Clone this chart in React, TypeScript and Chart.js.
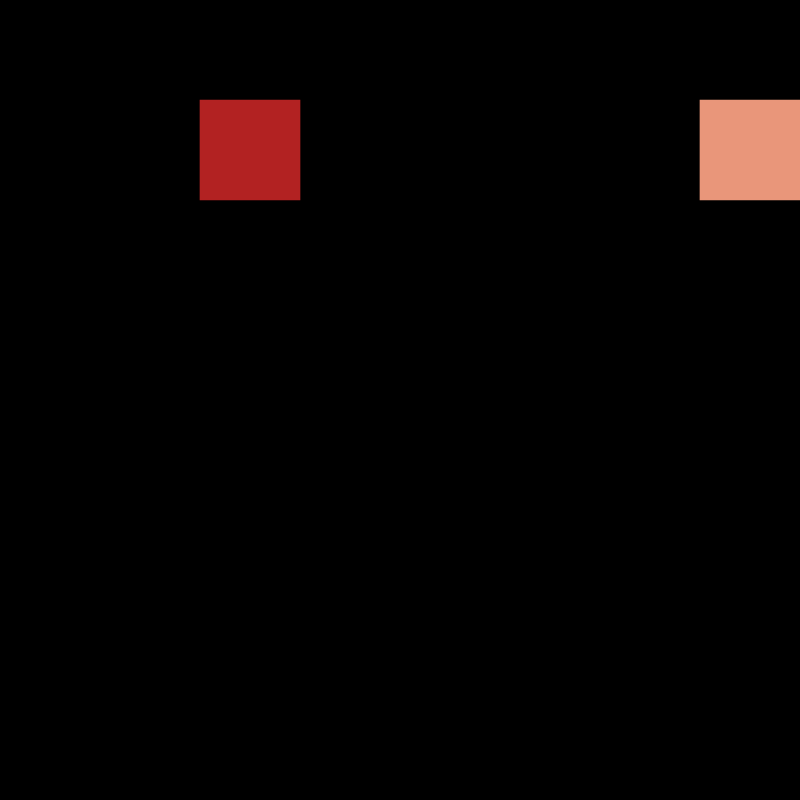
import { useEffect, useRef } from "react";
import { Chart, registerables } from "chart.js";

Chart.register(...registerables);

// grid columns (x categories) and row range (y)
const columns = ["A", "B", "C", "D", "E", "F", "G", "H"];
const rowMin = 0;
const rowMax = 8;

// filled cells
const cellColumns = ["C", "H"];
const cellRows = [1, 1];
const cellColors = ["#b22222", "#e9967a"];

export default function App() {
  const canvasRef = useRef<HTMLCanvasElement | null>(null);

  useEffect(() => {
    document.body.style.margin = "0";
    document.body.style.background = "#000";
    if (!canvasRef.current) return;
    const ctx = canvasRef.current.getContext("2d");
    if (!ctx) return;

    // one floating bar per filled cell, spanning its row
    const datasets = cellColumns.map((col, i) => ({
      label: col + cellRows[i],
      data: columns.map((c) =>
        c === col ? [cellRows[i], cellRows[i] + 1] : null
      ),
      backgroundColor: cellColors[i],
      borderWidth: 0,
      barPercentage: 1,
      categoryPercentage: 1,
      grouped: false,
    }));

    const chart = new Chart(ctx, {
      type: "bar",
      data: { labels: columns, datasets: datasets as any },
      options: {
        animation: false,
        responsive: true,
        maintainAspectRatio: false,
        layout: { padding: 0 },
        plugins: {
          legend: { display: false },
          tooltip: { enabled: false },
        },
        scales: {
          x: { display: false },
          y: { display: false, min: rowMin, max: rowMax, reverse: true },
        },
      },
    });

    return () => chart.destroy();
  }, []);

  return (
    <div
      style={{
        position: "fixed",
        left: 0,
        top: 0,
        width: 800,
        height: 800,
        background: "#000",
      }}
    >
      <canvas ref={canvasRef}></canvas>
    </div>
  );
}
